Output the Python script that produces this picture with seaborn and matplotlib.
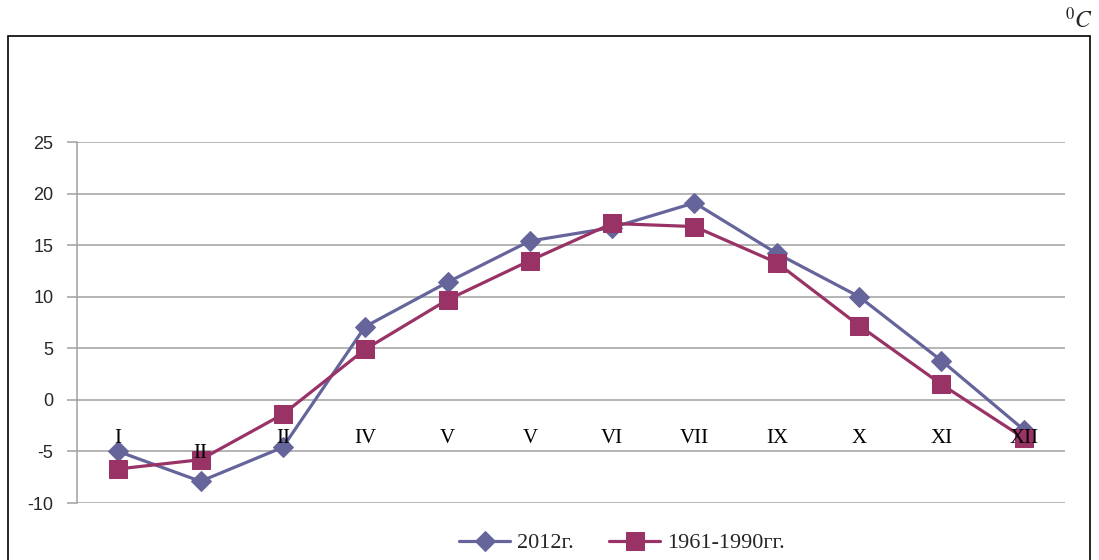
import numpy as np
import pandas as pd
import matplotlib
matplotlib.use("Agg")
import matplotlib.pyplot as plt
from matplotlib.patches import Rectangle
import seaborn as sns

months = ["I", "II", "II", "IV", "V", "V", "VI", "VII", "IX", "X", "XI", "XII"]
t2012 = [-5.0, -7.9, -4.6, 7.1, 11.4, 15.4, 16.7, 19.1, 14.2, 10.0, 3.8, -2.9]
t1961 = [-6.7, -5.8, -1.4, 4.9, 9.7, 13.5, 17.1, 16.8, 13.3, 7.2, 1.5, -3.7]
series_names = ["2012г.", "1961-1990гг."]
yticks = [-10, -5, 0, 5, 10, 15, 20, 25]

sns.set_style("white")
plt.rcParams['font.family'] = ['Liberation Serif', 'DejaVu Serif']
plt.rcParams['mathtext.fontset'] = 'stix'

W, H = 1099, 560
fig = plt.figure(figsize=(W / 100, H / 100), dpi=100)
ax = fig.add_axes([77 / W, 1 - 503 / H, 988 / W, 361 / H])

x = np.arange(len(months))
df = pd.DataFrame({"x": x, series_names[0]: t2012, series_names[1]: t1961})

c1 = "#65659B"
c2 = "#993366"
sns.lineplot(data=df, x="x", y=series_names[0], ax=ax, color=c1, lw=2.3,
             marker="D", markersize=10, markeredgecolor=c1, label=series_names[0])
sns.lineplot(data=df, x="x", y=series_names[1], ax=ax, color=c2, lw=2.3,
             marker="s", markersize=12.5, markeredgecolor=c2, label=series_names[1])

ax.set_xlim(-0.5, len(months) - 0.5)
ax.set_ylim(-10, 25)

ax.spines['bottom'].set_position(('data', 0))
ax.spines['bottom'].set_visible(False)
for s in ['top', 'right']:
    ax.spines[s].set_visible(False)
ax.spines['left'].set_color('#a0a0a0')
ax.spines['left'].set_linewidth(1.1)

ax.set_yticks(yticks)
ax.set_yticklabels([str(v) for v in yticks], family=['Liberation Sans'], fontsize=13)
ax.grid(axis='y', color='#a0a0a0', lw=1.1)
ax.grid(axis='x', visible=False)
ax.set_axisbelow(True)
ax.tick_params(axis='y', length=7, color='#a0a0a0', width=1.1, pad=10, left=True)

ax.set_xticks(x)
ax.set_xticklabels(months)
ax.tick_params(axis='x', length=0, pad=21, labelsize=15, labelcolor='black')
ax.xaxis.get_major_ticks()[1].set_pad(32)
ax.xaxis.set_zorder(5)
ax.set_xlabel("")
ax.set_ylabel("")

ax.legend(loc='center', bbox_to_anchor=(622 / W, 1 - 543 / H), bbox_transform=fig.transFigure,
          ncol=2, frameon=False, fontsize=16, handlelength=2.3, handletextpad=0.3,
          columnspacing=1.6, borderpad=0)

fig.add_artist(Rectangle((8 / W, -0.05), 1082 / W, 1.05 - 36 / H, transform=fig.transFigure,
                         fill=False, edgecolor='black', lw=1.2))
fig.text(1093 / W, 1 - 20 / H, r'$^{0}C$', ha='right', va='center', fontsize=17)

fig.savefig("out.png", dpi=100)
